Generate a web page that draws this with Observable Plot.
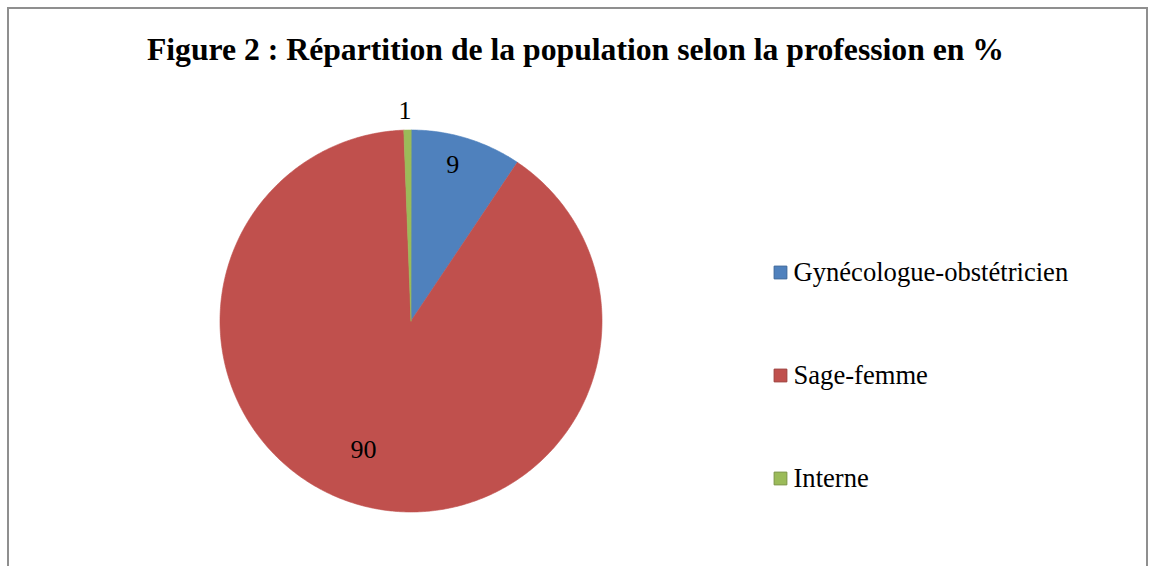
<!DOCTYPE html>
<html>
<head>
<meta charset="utf-8">
<script src="https://cdn.jsdelivr.net/npm/d3@7"></script>
<script src="https://cdn.jsdelivr.net/npm/@observablehq/plot@0.6"></script>
<style>
  html, body { margin: 0; padding: 0; background: #fff; overflow: hidden; }
  #wrap { position: relative; width: 1149px; height: 566px; }
  #frame { position: absolute; left: 7px; top: 7px; width: 1141px; height: 600px;
           border: 2px solid #8f8f8f; box-sizing: border-box; pointer-events: none; }
  #chart { position: absolute; left: 0; top: 0; }
</style>
</head>
<body>
<div id="wrap"><div id="chart"></div><div id="frame"></div></div>
<script>
// ---- data ----
const categories = ["Gynécologue-obstétricien", "Sage-femme", "Interne"];
const values = [9.4, 90.0, 0.6];
const valueLabels = ["9", "90", "1"];
const colors = ["#4F81BD", "#C0504D", "#9BBB59"];
const borderColors = ["#3A6599", "#9C3D3A", "#7A9444"];
const title = "Figure 2 : Répartition de la population selon la profession en %";

// ---- layout (style) ----
const W = 1149, H = 566;
const FONT = "'Liberation Serif', 'Times New Roman', serif";
const cx = 410.5, cy = 320.5, R = 191;
const labelRadius = [0.84, 0.72, 1.10];
const labelDx = [-5, -10, -2];
const labelDy = [-3, -4, 0];
const legendX = 780, legendY0 = 272, legendStep = 103;

const pie = d3.pie().sort(null).value(d => d)(values);
const pt = (a, r) => [cx + r * Math.sin(a), cy - r * Math.cos(a)];

const slicePts = [];
pie.forEach((p, i) => {
  const n = Math.max(2, Math.ceil((p.endAngle - p.startAngle) / 0.01));
  slicePts.push({cat: categories[i], x: cx, y: cy});
  for (let j = 0; j <= n; j++) {
    const a = p.startAngle + (p.endAngle - p.startAngle) * j / n;
    const [x, y] = pt(a, R);
    slicePts.push({cat: categories[i], x, y});
  }
});

const labels = pie.map((p, i) => {
  const a = (p.startAngle + p.endAngle) / 2;
  const [x, y] = pt(a, R * labelRadius[i]);
  return {x: x + labelDx[i], y: y + labelDy[i], text: valueLabels[i]};
});

const legend = categories.map((c, i) => ({cat: c, x: legendX, y: legendY0 + i * legendStep}));

const plot = Plot.plot({
  width: W, height: H,
  margin: 0,
  x: {domain: [0, W], range: [0, W], axis: null},
  y: {domain: [0, H], range: [0, H], axis: null},
  color: {domain: categories, range: colors},
  style: {background: "transparent", overflow: "visible", fontFamily: FONT},
  marks: [
    Plot.line(slicePts, {x: "x", y: "y", z: "cat", fill: "cat", stroke: "cat", strokeWidth: 0.6, curve: "linear-closed"}),
    Plot.text(labels, {x: "x", y: "y", text: "text", fontSize: 26, fill: "#000", fontFamily: FONT}),
    Plot.text([title], {x: () => 575, y: () => 49, text: d => d, fontSize: 31.7, fontWeight: "bold", fill: "#000", fontFamily: FONT}),
    Plot.dot(legend, {x: "x", y: "y", symbol: "square", r: 7.2, fill: "cat",
      stroke: (d, i) => borderColors[i], strokeWidth: 1}),
    Plot.text(legend, {x: d => d.x + 13, y: "y", text: "cat", textAnchor: "start", fontSize: 26.6, fill: "#000", fontFamily: FONT})
  ]
});
document.getElementById("chart").appendChild(plot);
</script>
</body>
</html>
